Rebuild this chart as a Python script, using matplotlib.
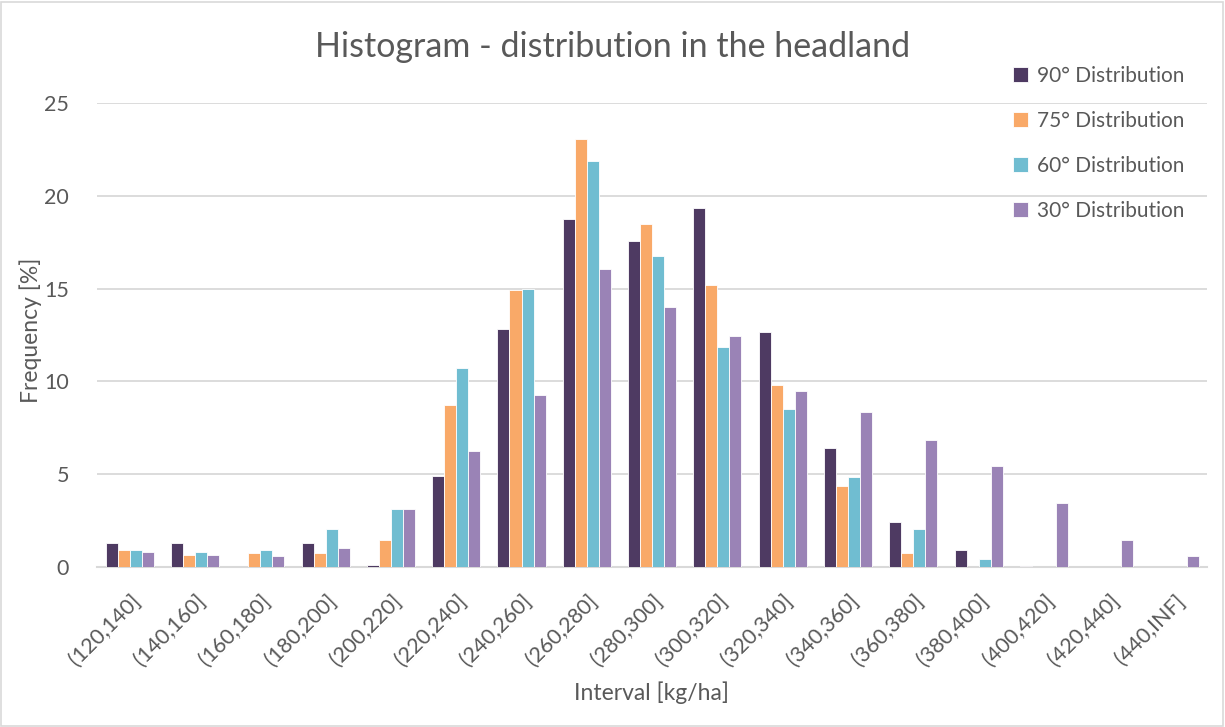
import matplotlib.pyplot as plt
import matplotlib.patches as mpatches
import numpy as np

plt.rcParams['font.family'] = ['Lato', 'DejaVu Sans']

intervals = ['(120,140]', '(140,160]', '(160,180]', '(180,200]', '(200,220]',
             '(220,240]', '(240,260]', '(260,280]', '(280,300]', '(300,320]',
             '(320,340]', '(340,360]', '(360,380]', '(380,400]', '(400,420]',
             '(420,440]', '(440,INF]']

freq_90 = [1.31, 1.31, 0, 1.31, 0.11, 4.90, 12.82, 18.77, 17.57, 19.33,
           12.65, 6.39, 2.42, 0.92, 0.05, 0, 0]
freq_75 = [0.90, 0.65, 0.75, 0.75, 1.47, 8.71, 14.90, 23.04, 18.48, 15.19,
           9.82, 4.36, 0.77, 0, 0, 0, 0]
freq_60 = [0.90, 0.83, 0.92, 2.03, 3.12, 10.70, 15.00, 21.85, 16.75, 11.86,
           8.51, 4.86, 2.03, 0.43, 0, 0, 0]
freq_30 = [0.81, 0.66, 0.57, 1.02, 3.12, 6.23, 9.26, 16.05, 14.00, 12.44,
           9.49, 8.35, 6.84, 5.44, 3.43, 1.45, 0.57]

series = [('90° Distribution', freq_90, '#4e3a62'),
          ('75° Distribution', freq_75, '#f9a968'),
          ('60° Distribution', freq_60, '#70bdd1'),
          ('30° Distribution', freq_30, '#9a83b6')]

text_col = '#595959'
grid_col = '#d9d9d9'

fig = plt.figure(figsize=(12.25, 7.27), dpi=100)
ax = fig.add_axes([0.0792, 0.22, 0.9063, 0.6383])

x = np.arange(len(intervals))
step = 0.184
handles = []
for i, (name, vals, col) in enumerate(series):
    # no outline on empty bins, so the baseline stays unbroken
    lw = [0.6 if v > 0 else 0 for v in vals]
    b = ax.bar(x + (i - 1.5) * step, vals, width=step, color=col,
               edgecolor='white', linewidth=lw, zorder=2, label=name)
    handles.append(b)

ax.set_xlim(-0.5, len(intervals) - 0.5)
ax.set_ylim(0, 25)
ax.set_yticks(np.arange(0, 26, 5))
ax.yaxis.grid(True, color=grid_col, linewidth=1.3, zorder=0)
ax.axhline(0, color=grid_col, linewidth=1.5, zorder=1.5, clip_on=False)
ax.set_axisbelow(True)
for s in ax.spines.values():
    s.set_visible(False)

ax.tick_params(axis='both', length=0, colors=text_col, labelsize=15.5)
ax.tick_params(axis='y', pad=20)
ax.set_xticks(x)
ax.set_xticklabels(intervals, rotation=45, ha='right', va='top',
                   rotation_mode='anchor')
ax.tick_params(axis='x', pad=17)

ax.set_ylabel('Frequency [%]', color=text_col, fontsize=16.5)
ax.yaxis.set_label_coords(-0.05, 0.51)
fig.text(0.532, 0.047, 'Interval [kg/ha]', color=text_col, fontsize=16.5,
         ha='center', va='center')

fig.text(0.5, 0.935, 'Histogram - distribution in the headland',
         color=text_col, fontsize=24.5, ha='center', va='center')

leg = fig.legend(handles=handles, loc='upper left',
                 bbox_to_anchor=(0.812, 0.935), frameon=False,
                 fontsize=15, labelcolor=text_col, handlelength=0.7,
                 handleheight=0.7, handletextpad=0.45, labelspacing=1.2)

# light border round the whole chart
fig.patches.append(mpatches.Rectangle((0.001, 0.002), 0.997, 0.995,
                                      transform=fig.transFigure,
                                      fill=False, edgecolor=grid_col,
                                      linewidth=1.2))

fig.savefig('out.png', dpi=100)
